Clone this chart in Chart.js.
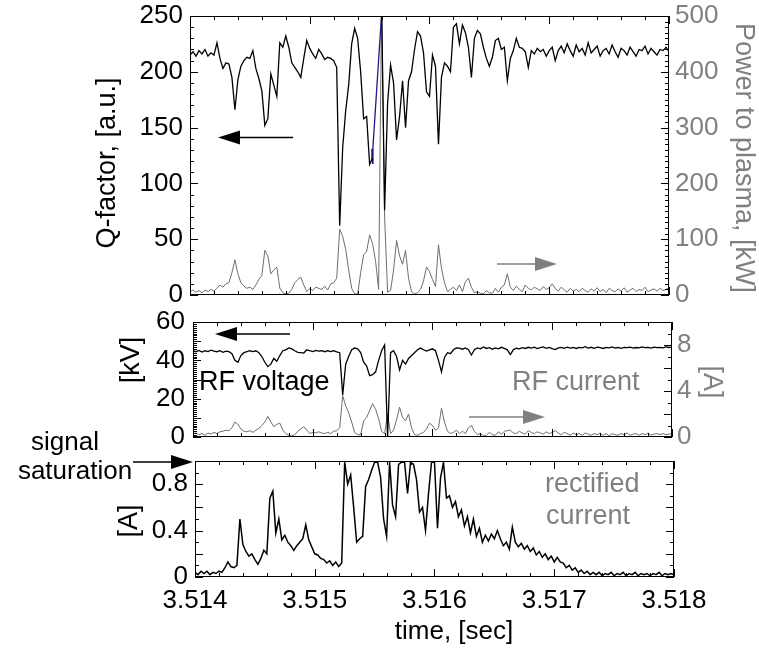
<!DOCTYPE html>
<html>
<head>
<meta charset="utf-8">
<script src="https://cdn.jsdelivr.net/npm/chart.js@4.4.1/dist/chart.umd.min.js"></script>
<style>
  body { margin: 0; background: #fff; }
  #wrap { position: relative; width: 759px; height: 652px; }
  canvas { position: absolute; left: 0; }
</style>
</head>
<body>
<div id="wrap">
  <canvas id="top" width="759" height="310" style="top:0"></canvas>
  <canvas id="mid" width="759" height="150" style="top:300px"></canvas>
  <canvas id="bot" width="759" height="222" style="top:430px"></canvas>
</div>
<script>
// sampling of the traces: one value every 25 us from 3.514 s
const t0 = 3.514;
const dt = 0.000025;

const timeTicks = [3.514, 3.515, 3.516, 3.517, 3.518];
const qTicks = [0, 50, 100, 150, 200, 250];
const powerTicks = [0, 100, 200, 300, 400, 500];
const kvTicks = [0, 20, 40, 60];
const ampTicks = [0, 4, 8];
const rectTicks = [0, 0.4, 0.8];

const qFactor = [
  215, 218, 214, 219, 216, 220, 214, 217, 215, 226,
  212, 203, 208, 207, 195, 166, 193, 205, 210, 213,
  212, 219, 203, 194, 183, 152, 158, 198, 188, 178,
  226, 222, 232, 222, 208, 204, 200, 195, 212, 228,
  221, 216, 212, 220, 216, 211, 213, 212, 210, 204,
  62, 132, 165, 188, 225, 239, 230, 200, 158, 160,
  117, 123, null, null, 262, 76, 172, 206, 190, 139,
  160, 192, 150, 192, 200, 220, 236, 232, 217, 182,
  178, 215, 205, 135, 195, 208, 205, 200, 240, 243,
  225, 242, 235, 222, 195, 230, 237, 234, 222, 212,
  205, 213, 228, 230, 220, 222, 192, 212, 219, 230,
  222, 221, 218, 204, 219, 216, 221, 218, 220, 214,
  219, 222, 210, 219, 223, 217, 225, 219, 214, 224,
  218, 221, 215, 226, 217, 220, 223, 214, 219, 221,
  216, 224, 218, 213, 221, 219, 215, 222, 218, 214,
  220, 219, 223, 216, 221, 218, 215, 220, 219, 222, 218
];
const qBlueTime = [3.515515, 3.515519, 3.515524, 3.515528, 3.515602];
const qBlueValue = [120, 131, 118, 133, 255];

const power = [
  6, 9, 5, 8, 4, 9, 6, 10, 7, 12,
  18, 14, 20, 22, 40, 63, 38, 22, 16, 12,
  14, 10, 18, 28, 35, 80, 70, 38, 45, 50,
  12, 4, 2, 3, 10, 22, 28, 32, 18, 6,
  12, 8, 14, 12, 10, 16, 9, 20, 22, 30,
  118, 105, 82, 45, 12, 2, 1, 40, 72, 78,
  108, 92, 60, 10, 520, 140, 5, 8, 45, 98,
  70, 55, 80, 30, 6, 2, 4, 10, 25, 50,
  42, 28, 15, 90, 48, 22, 6, 10, 14, 8,
  18, 6, 24, 30, 14, 4, 6, 3, 2, 8,
  4, 3, 12, 5, 14, 18, 38, 14, 8, 16,
  10, 6, 18, 12, 9, 14, 11, 8, 15, 10,
  13, 20, 12, 7, 14, 9, 5, 12, 7, 10,
  6, 12, 8, 5, 11, 7, 13, 6, 10, 4,
  12, 8, 6, 11, 7, 13, 5, 9, 12, 6,
  10, 8, 14, 6, 9, 11, 7, 12, 8, 10, 13
];
const powerMarkTime = [3.51475, 3.51479, 3.51499, 3.51539];
const powerMarkValue = [0, 0, 0, 0];

const rfVoltage = [
  45, 44.5, 45.2, 44.3, 45, 44.6, 45.3, 44.8, 44.5, 45,
  44.2, 44.8, 44.5, 43.5, 40, 39, 42.5, 44, 44.5, 45,
  44.6, 45, 44, 42, 39, 36.7, 38, 41, 39.5, 42.5,
  45, 45.5, 46.5, 46, 45, 44.2, 44, 43.8, 45.5, 45,
  44.6, 45.2, 44.8, 45, 44.5, 45, 44.6, 45, 44.4, 44,
  22, 38, 42, 45.5, 46.4, 46, 44, 39, 37, 32,
  32.5, 34, 40, 45, 48, 0, 44, 45, 42, 35,
  40, 38, 41, 42.5, 44, 45.5, 46.4, 45.5, 44.8, 45.5,
  46, 45, 40, 34, 41.5, 44, 43.5, 45.5, 46.5, 46.4,
  45.8, 46.5, 45.5, 42.8, 45.5, 46.5, 46, 47, 46.2, 46.6,
  45.8, 46.5, 46, 46.8, 46.2, 45.5, 43, 45.5, 46.3, 46,
  46.6, 46.2, 46.8, 46.4, 46.9, 46.1, 46.6, 47, 46.3, 46.7,
  46.1, 45.6, 46.5, 46.8, 46.3, 46.9, 46.4, 46.7, 46.2, 46.8,
  46.5, 47.1, 46.4, 46.8, 46.3, 46.9, 46.6, 46.2, 46.8, 46.5,
  47, 46.4, 46.7, 46.3, 46.8, 46.6, 46.9, 46.4, 46.7, 46.5,
  47, 46.6, 46.8, 46.4, 46.9, 46.6, 46.8, 46.5, 47, 46.7, 46.9
];

const rfCurrent = [
  0.25, 0.35, 0.2, 0.3, 0.15, 0.35, 0.25, 0.4, 0.3, 0.45,
  0.5, 0.6, 0.55, 0.8, 1.3, 1.1, 0.7, 0.5, 0.45, 0.55,
  0.4, 0.6, 0.75, 1.0, 1.3, 1.8, 1.3, 0.9, 1.1, 1.2,
  0.6, 0.3, 0.15, 0.1, 0.2, 0.5, 0.7, 0.9, 0.6, 0.3,
  0.4, 0.35, 0.45, 0.35, 0.3, 0.4, 0.3, 0.5, 0.55, 0.8,
  3.6, 2.7, 2.1, 1.3, 0.4, 0.2, 0.2, 1.4, 1.7, 2.3,
  2.9, 2.4, 1.6, 0.5, 0.3, 2.0, 0.3, 0.6, 1.5, 2.6,
  1.7, 1.4, 2.0, 0.8, 0.2, 0.15, 0.3, 0.4, 0.7, 1.2,
  1.0, 0.6, 0.8, 2.5, 1.3, 0.5, 0.3, 0.4, 0.6, 0.3,
  0.5, 0.3, 0.8, 1.0, 0.5, 0.2, 0.3, 0.1, 0.15, 0.4,
  0.2, 0.15, 0.45, 0.25, 0.5, 0.55, 0.6, 0.35, 0.3, 0.5,
  0.35, 0.25, 0.55, 0.4, 0.3, 0.45, 0.35, 0.25, 0.45, 0.3,
  0.4, 0.55, 0.35, 0.2, 0.4, 0.3, 0.15, 0.35, 0.2, 0.3,
  0.15, 0.35, 0.25, 0.15, 0.3, 0.2, 0.35, 0.15, 0.3, 0.1,
  0.3, 0.2, 0.15, 0.3, 0.2, 0.35, 0.15, 0.25, 0.3, 0.15,
  0.3, 0.2, 0.35, 0.15, 0.25, 0.3, 0.2, 0.3, 0.2, 0.25, 0.3
];

const rectified = [
  0.04, 0.02, 0.05, 0.03, 0.05, 0.02, 0.04, 0.03, 0.05, 0.04,
  0.08, 0.13, 0.09, 0.08, 0.1, 0.5, 0.28, 0.22, 0.18, 0.2,
  0.15, 0.11, 0.16, 0.23, 0.2, 0.68, 0.74, 0.38, 0.5, 0.32,
  0.36, 0.3, 0.27, 0.23, 0.27, 0.3, 0.33, 0.45, 0.32, 0.26,
  0.2, 0.19, 0.16, 0.15, 0.12, 0.14, 0.1, 0.13, 0.09, 0.12,
  0.99, 0.8, 0.88, 0.6, 0.3, 0.33, 0.35, 0.78, 0.84, 0.92,
  0.99, 0.99, 0.86, 0.5, 0.35, 0.99, 0.62, 0.52, 0.97, 0.99,
  0.99, 0.72, 0.99, 0.97, 0.84, 0.56, 0.6, 0.4, 0.72, 0.99,
  0.99, 0.42, 0.85, 0.99, 0.68, 0.7, 0.6, 0.65, 0.52, 0.58,
  0.44, 0.52, 0.38, 0.5, 0.35, 0.42, 0.3, 0.36, 0.31, 0.37,
  0.33, 0.4, 0.33, 0.27, 0.3, 0.24, 0.43, 0.3, 0.26, 0.29,
  0.24, 0.27, 0.22, 0.25, 0.19, 0.22, 0.17, 0.2, 0.15, 0.18,
  0.13, 0.17, 0.13, 0.12, 0.08, 0.1, 0.06, 0.08, 0.04, 0.06,
  0.03, 0.05, 0.02, 0.04, 0.02, 0.04, 0.01, 0.03, 0.02, 0.04,
  0.01, 0.03, 0.02, 0.04, 0.01, 0.03, 0.02, 0.04, 0.01, 0.03,
  0.02, 0.03, 0.01, 0.03, 0.02, 0.04, 0.01, 0.03, 0.02, 0.03, 0.02
];

const FONT = '"Liberation Sans", Arial, Helvetica, sans-serif';
const GRAY = "#808080";

const series = (values) => values.map((v, i) => ({ x: t0 + i * dt, y: v }));
const pairs = (xs, ys) => xs.map((x, i) => ({ x, y: ys[i] }));

// inward tick marks and the box round the plot area
const frameTicks = {
  id: "frameTicks",
  afterDatasetsDraw(chart, args, opts) {
    const { ctx, chartArea: a } = chart;
    ctx.save();
    ctx.strokeStyle = "#000";
    ctx.lineWidth = 1;
    ctx.strokeRect(Math.round(a.left) + 0.5, Math.round(a.top) + 0.5,
      Math.round(a.width) - 1, Math.round(a.height) - 1);
    ctx.beginPath();
    opts.marks.forEach((m) => {
      const s = chart.scales[m.id];
      const n = Math.round((s.max - s.min) / m.step);
      for (let k = 0; k <= n; k++) {
        const len = k % m.every === 0 ? 8 : 4;
        const p = Math.round(s.getPixelForValue(s.min + k * m.step)) + 0.5;
        if (m.side === "left") { ctx.moveTo(a.left, p); ctx.lineTo(a.left + len, p); }
        if (m.side === "right") { ctx.moveTo(a.right, p); ctx.lineTo(a.right - len, p); }
        if (m.side === "top") { ctx.moveTo(p, a.top); ctx.lineTo(p, a.top + len); }
        if (m.side === "bottom") { ctx.moveTo(p, a.bottom); ctx.lineTo(p, a.bottom - len); }
      }
    });
    ctx.stroke();
    ctx.restore();
  },
};

// free text and arrows
const notes = {
  id: "notes",
  afterDraw(chart, args, opts) {
    const ctx = chart.ctx;
    ctx.save();
    (opts.items || []).forEach((it) => {
      ctx.fillStyle = it.color || "#000";
      ctx.strokeStyle = it.color || "#000";
      if (it.text) {
        ctx.save();
        ctx.translate(it.x, it.y);
        ctx.rotate(((it.rot || 0) * Math.PI) / 180);
        ctx.font = (it.size || 26) + "px " + FONT;
        ctx.textAlign = it.align || "center";
        ctx.textBaseline = "middle";
        ctx.fillText(it.text, 0, 0);
        ctx.restore();
      } else {
        const dir = it.tip > it.tail ? 1 : -1;
        const base = it.tip - dir * 22;
        ctx.lineWidth = 1.5;
        ctx.beginPath();
        ctx.moveTo(it.tail, it.y);
        ctx.lineTo(base, it.y);
        ctx.stroke();
        ctx.beginPath();
        ctx.moveTo(it.tip, it.y);
        ctx.lineTo(base, it.y - 7);
        ctx.lineTo(base, it.y + 7);
        ctx.closePath();
        ctx.fill();
      }
    });
    ctx.restore();
  },
};

function yAxis(pos, min, max, ticks, color, width, pad) {
  return {
    type: "linear",
    position: pos,
    min,
    max,
    afterBuildTicks: (s) => { s.ticks = ticks.map((v) => ({ value: v })); },
    afterFit: (s) => { s.width = width; s.paddingTop = 0; s.paddingBottom = 0; },
    grid: { display: false, drawTicks: false },
    border: { display: false },
    ticks: { color, padding: pad, font: { family: FONT, size: 26 } },
  };
}

function xAxis(show, height) {
  return {
    type: "linear",
    min: 3.514,
    max: 3.518,
    display: show,
    afterBuildTicks: (s) => { s.ticks = timeTicks.map((v) => ({ value: v })); },
    afterFit: (s) => { s.height = height; s.paddingLeft = 0; s.paddingRight = 0; },
    grid: { display: false, drawTicks: false },
    border: { display: false },
    ticks: {
      color: "#000",
      padding: 8,
      maxRotation: 0,
      font: { family: FONT, size: 26 },
      callback: (v) => v.toFixed(3),
    },
  };
}

const xMarks = [
  { id: "x", side: "top", step: 0.0002, every: 5 },
  { id: "x", side: "bottom", step: 0.0002, every: 5 },
];

const baseOptions = {
  responsive: false,
  animation: false,
  events: [],
  elements: { point: { radius: 0 } },
};

new Chart(document.getElementById("top"), {
  type: "line",
  data: {
    datasets: [
      { data: series(qFactor), yAxisID: "y", borderColor: "#000", borderWidth: 1.3 },
      { data: pairs(qBlueTime, qBlueValue), yAxisID: "y", borderColor: "#1c1c8c", borderWidth: 1.3 },
      { data: series(power), yAxisID: "y2", borderColor: "#6e6e6e", borderWidth: 1 },
      {
        data: pairs(powerMarkTime, powerMarkValue), yAxisID: "y2", showLine: false,
        pointRadius: 1.5, pointBackgroundColor: "#ff00ff", pointBorderWidth: 0,
      },
    ],
  },
  options: {
    ...baseOptions,
    layout: { padding: { left: 0, right: 0, top: 16, bottom: 15 } },
    scales: {
      x: xAxis(false, 0),
      y: yAxis("left", 0, 250, qTicks, "#000", 190, 7),
      y2: yAxis("right", 0, 500, powerTicks, GRAY, 90, 6),
    },
    plugins: {
      legend: { display: false },
      tooltip: { enabled: false },
      frameTicks: {
        marks: [
          { id: "y", side: "left", step: 10, every: 5 },
          { id: "y2", side: "right", step: 10, every: 10 },
          ...xMarks,
        ],
      },
      notes: {
        items: [
          { text: "Q-factor, [a.u.]", x: 108, y: 163, rot: -90, size: 27 },
          { text: "Power to plasma, [kW]", x: 743, y: 158, rot: 90, color: GRAY, size: 27 },
          { tail: 293, tip: 218, y: 137.5 },
          { tail: 497, tip: 557, y: 264, color: GRAY },
        ],
      },
    },
  },
  plugins: [frameTicks, notes],
});

new Chart(document.getElementById("mid"), {
  type: "line",
  data: {
    datasets: [
      { data: series(rfVoltage), yAxisID: "y", borderColor: "#000", borderWidth: 1.3 },
      { data: series(rfCurrent), yAxisID: "y2", borderColor: "#6e6e6e", borderWidth: 1 },
    ],
  },
  options: {
    ...baseOptions,
    layout: { padding: { left: 0, right: 0, top: 22, bottom: 13 } },
    scales: {
      x: xAxis(false, 0),
      y: yAxis("left", 0, 60, kvTicks, "#000", 193, 8),
      y2: yAxis("right", 0, 10, ampTicks, GRAY, 87, 5),
    },
    plugins: {
      legend: { display: false },
      tooltip: { enabled: false },
      frameTicks: {
        marks: [
          { id: "y", side: "left", step: 1, every: 10 },
          { id: "y2", side: "right", step: 1, every: 2 },
          ...xMarks,
        ],
      },
      notes: {
        items: [
          { text: "[kV]", x: 132, y: 60, rot: -90, size: 27 },
          { text: "[A]", x: 711, y: 82, rot: 90, color: GRAY, size: 27 },
          { text: "RF voltage", x: 199, y: 83, align: "left", size: 27 },
          { text: "RF current", x: 512, y: 83, align: "left", color: GRAY, size: 27 },
          { tail: 290, tip: 215, y: 34 },
          { tail: 469, tip: 545, y: 117, color: GRAY },
        ],
      },
    },
  },
  plugins: [frameTicks, notes],
});

new Chart(document.getElementById("bot"), {
  type: "line",
  data: {
    datasets: [
      { data: series(rectified), yAxisID: "y", borderColor: "#000", borderWidth: 1.5 },
    ],
  },
  options: {
    ...baseOptions,
    layout: { padding: { left: 0, right: 85, top: 31, bottom: 0 } },
    scales: {
      x: xAxis(true, 75),
      y: yAxis("left", 0, 1, rectTicks, "#000", 195, 7),
    },
    plugins: {
      legend: { display: false },
      tooltip: { enabled: false },
      frameTicks: {
        marks: [
          { id: "y", side: "left", step: 0.1, every: 2 },
          { id: "y", side: "right", step: 0.1, every: 2 },
          ...xMarks,
        ],
      },
      notes: {
        items: [
          { text: "signal", x: 65, y: 13, size: 26 },
          { text: "saturation", x: 75, y: 42, size: 26 },
          { tail: 133, tip: 193, y: 32 },
          { text: "[A]", x: 130, y: 91, rot: -90, size: 27 },
          { text: "rectified", x: 545, y: 55, align: "left", color: GRAY, size: 27 },
          { text: "current", x: 546, y: 87, align: "left", color: GRAY, size: 27 },
          { text: "time, [sec]", x: 454, y: 202, size: 26 },
        ],
      },
    },
  },
  plugins: [frameTicks, notes],
});
</script>
</body>
</html>
